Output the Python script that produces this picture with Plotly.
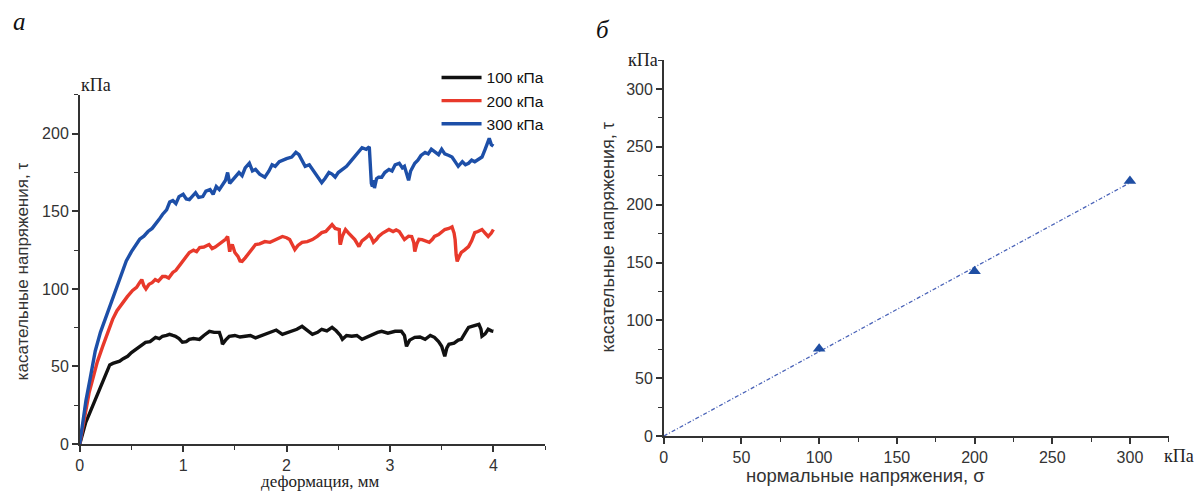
import plotly.graph_objects as go

# ---- Panel a: shear stress vs. displacement for three normal loads ----
disp_100 = [0, 0.03, 0.058, 0.09, 0.125, 0.17, 0.222, 0.26, 0.29, 0.32, 0.35, 0.386, 0.42, 0.463,
            0.5, 0.54, 0.58, 0.61, 0.636, 0.68, 0.733, 0.77, 0.80, 0.84, 0.868, 0.9, 0.926, 0.96,
            0.993, 1.03, 1.06, 1.1, 1.157, 1.2, 1.254, 1.3, 1.35, 1.37, 1.38, 1.41, 1.446, 1.5,
            1.55, 1.6, 1.65, 1.7, 1.736, 1.8, 1.86, 1.9, 1.96, 2.0, 2.05, 2.1, 2.15, 2.2, 2.25,
            2.3, 2.34, 2.39, 2.44, 2.48, 2.52, 2.54, 2.58, 2.63, 2.68, 2.73, 2.78, 2.83, 2.88,
            2.92, 2.98, 3.05, 3.11, 3.14, 3.16, 3.19, 3.24, 3.29, 3.34, 3.39, 3.43, 3.47, 3.50,
            3.53, 3.55, 3.57, 3.62, 3.66, 3.69, 3.73, 3.76, 3.8, 3.86, 3.88, 3.89, 3.92, 3.95,
            3.98, 4.0]
tau_100 = [0, 7, 14, 19, 24.4, 32, 40, 46, 51, 52, 52.5, 53.4, 55, 56.6,
           59, 61, 62.5, 64, 65.6, 66, 68.8, 68, 69.5, 70, 70.7, 70, 69.5, 68,
           65.6, 66, 67.5, 68, 67.5, 70, 72.7, 72, 72, 68, 64.3, 67, 69.5, 70,
           69, 69.5, 70, 68.5, 69.5, 71, 72.7, 73.5, 70.7, 71.5, 72.7, 74, 75.9, 73, 70.7,
           72, 74, 73, 75.2, 73, 70, 67.5, 70, 69.5, 70, 67.5, 69, 70.7, 72,
           72.7, 71.5, 72.7, 72.7, 70, 63, 67, 68.8, 69, 67.5, 70, 68.8, 66, 63,
           56.6, 62, 64.3, 65, 67, 67.5, 72, 75.2, 76, 77.2, 74, 69.5, 71, 74,
           73, 72.7]

disp_200 = [0, 0.03, 0.058, 0.09, 0.125, 0.17, 0.222, 0.27, 0.318, 0.36, 0.415, 0.46, 0.511,
            0.55, 0.579, 0.6, 0.62, 0.64, 0.67, 0.70, 0.73, 0.76, 0.8, 0.83, 0.86, 0.9, 0.93,
            0.96, 1.0, 1.03, 1.06, 1.1, 1.13, 1.16, 1.2, 1.25, 1.28, 1.31, 1.35, 1.38, 1.41,
            1.43, 1.44, 1.45, 1.46, 1.475, 1.5, 1.53, 1.55, 1.57, 1.6, 1.64, 1.67, 1.70, 1.74,
            1.79, 1.84, 1.89, 1.93, 1.96, 2.0, 2.03, 2.06, 2.08, 2.11, 2.15, 2.2, 2.25, 2.3,
            2.34, 2.38, 2.41, 2.44, 2.47, 2.51, 2.515, 2.52, 2.54, 2.57, 2.6, 2.63, 2.66, 2.70,
            2.73, 2.77, 2.80, 2.82, 2.84, 2.87, 2.89, 2.93, 2.96, 2.99, 3.03, 3.06, 3.09, 3.12,
            3.14, 3.18, 3.21, 3.23, 3.24, 3.26, 3.28, 3.31, 3.35, 3.38, 3.41, 3.43, 3.47, 3.5,
            3.53, 3.57, 3.60, 3.62, 3.63, 3.64, 3.65, 3.67, 3.69, 3.72, 3.76, 3.79, 3.82, 3.85,
            3.89, 3.92, 3.95, 3.98, 4.0]
tau_200 = [0, 12, 22.5, 33, 41.8, 53, 63, 72, 80.4, 86, 91.3, 95, 99,
           101, 104, 106, 102, 100, 103, 104, 106, 105, 108, 108, 107, 110.6, 112,
           114.5, 118, 121, 123.5, 125, 124, 126.7, 127, 128.6, 126, 127, 129, 130, 132,
           133.8, 129, 124, 127, 128.6, 123.5, 121, 118, 117.7, 120, 123.5, 126, 128.6, 129,
           130.5, 130, 131.8, 133, 133.8, 133, 131.8, 128, 125.4, 128, 130, 130.5, 131.8, 134,
           136.3, 137, 139, 141.5, 139, 138.3, 130, 128.6, 134, 138.3, 136, 134, 131.8, 127.3,
           131, 133, 135, 133, 130, 132, 133.8, 136, 137, 138.3, 137, 138, 137, 134,
           131.8, 134, 133.8, 130, 124, 129, 132, 131.8, 131, 130, 132, 133.8, 135, 137,
           138.3, 139, 140, 136, 131.8, 122, 117.7, 121, 123.5, 125, 127.3, 131, 136.3, 137,
           138.3, 136, 133.8, 136, 138.3]

disp_300 = [0, 0.03, 0.06, 0.1, 0.15, 0.2, 0.25, 0.3, 0.35, 0.4, 0.45, 0.5, 0.55, 0.58, 0.62,
            0.66, 0.7, 0.74, 0.77, 0.8, 0.84, 0.87, 0.9, 0.93, 0.96, 1.0, 1.03, 1.06, 1.09,
            1.12, 1.15, 1.19, 1.22, 1.26, 1.29, 1.32, 1.35, 1.38, 1.41, 1.43, 1.45, 1.475, 1.5,
            1.54, 1.57, 1.6, 1.64, 1.67, 1.70, 1.74, 1.79, 1.83, 1.86, 1.89, 1.93, 1.96, 2.0,
            2.05, 2.09, 2.12, 2.15, 2.18, 2.22, 2.25, 2.29, 2.34, 2.37, 2.41, 2.44, 2.47, 2.5,
            2.54, 2.58, 2.63, 2.67, 2.70, 2.73, 2.77, 2.80, 2.81, 2.82, 2.83, 2.84, 2.85, 2.87,
            2.89, 2.92, 2.95, 2.99, 3.02, 3.05, 3.09, 3.12, 3.14, 3.17, 3.18, 3.2, 3.24, 3.27,
            3.3, 3.34, 3.37, 3.40, 3.44, 3.47, 3.50, 3.53, 3.57, 3.60, 3.63, 3.66, 3.7, 3.73,
            3.76, 3.79, 3.82, 3.86, 3.89, 3.92, 3.94, 3.96, 3.98, 4.0]
tau_300 = [0, 15, 28, 42, 60, 72, 81, 91, 100, 109, 118, 124, 129, 132, 134,
           137, 139, 142, 145, 148, 151, 156, 157, 155, 159.5, 161, 158, 157.6, 160,
           162, 159, 159.5, 163, 164, 161, 166, 164, 167, 170, 175, 168, 170, 172,
           175, 173, 178, 181, 176, 177, 174, 172, 176, 180, 179, 182, 183, 184,
           185, 188, 186.5, 183, 179, 180, 177, 173, 168.5, 171, 175, 174, 172, 175,
           177, 179, 183, 186, 189, 191, 190, 191.6, 180, 168, 166, 170, 165, 171,
           172, 172, 175, 177, 176, 180, 181, 178, 179, 172, 170, 176, 181, 183,
           186, 188, 187, 190, 188, 186.5, 190, 187, 186, 185, 182, 179, 182, 180,
           181, 183, 182, 184, 185, 190, 194, 197, 193, 192]

series_names = ["100 кПа", "200 кПа", "300 кПа"]
series_colors = ["#111111", "#e8392b", "#1d4fa8"]

# ---- Panel б: shear strength vs. normal stress ----
sigma = [100, 200, 300]
tau_max = [75.5, 142.5, 220.5]

# least-squares line through the origin
slope = sum(s * t for s, t in zip(sigma, tau_max)) / sum(s * s for s in sigma)
fit_sigma = [0, 300]
fit_tau = [slope * s for s in fit_sigma]

W, H = 1195, 491
H_EFF = 483  # vertical extent used when converting pixel positions to paper fractions


def px(x):
    return x / W


def py(y):
    return 1 - y / H_EFF


sans = "Liberation Sans, Arial, sans-serif"
serif = "Liberation Serif, Times New Roman, serif"
axis_col = "#333333"

fig = go.Figure()
for xs, ys, name, col in zip([disp_100, disp_200, disp_300], [tau_100, tau_200, tau_300],
                             series_names, series_colors):
    fig.add_trace(go.Scatter(x=xs, y=ys, mode="lines", name=name,
                             line=dict(color=col, width=3.4), xaxis="x", yaxis="y"))

fig.add_trace(go.Scatter(x=fit_sigma, y=fit_tau, mode="lines", showlegend=False,
                         line=dict(color="#4a63b8", width=1.3, dash="4px,2px,1px,2px"),
                         xaxis="x2", yaxis="y2"))
fig.add_trace(go.Scatter(x=sigma, y=tau_max, mode="markers", showlegend=False,
                         marker=dict(symbol="triangle-up", size=11, color="#1f4ea3"),
                         xaxis="x2", yaxis="y2"))

common = dict(showgrid=False, zeroline=False, showline=True, linecolor=axis_col, linewidth=1.5,
              ticks="outside", ticklen=6, tickwidth=1.5, tickcolor=axis_col,
              tickfont=dict(family=sans, size=16, color="#333333"), mirror=False)
minor_25 = dict(ticks="outside", ticklen=4, dtick=25, tickcolor=axis_col, tickwidth=1.2)

fig.update_layout(
    width=W, height=H, margin=dict(l=0, r=0, t=0, b=0),
    paper_bgcolor="white", plot_bgcolor="white",
    xaxis=dict(domain=[px(76), px(543)], range=[0, 4.501], dtick=1, anchor="y",
               minor=dict(ticks="outside", ticklen=4, dtick=0.5, tickcolor=axis_col, tickwidth=1.2),
               **common),
    yaxis=dict(domain=[py(445), py(95)], range=[0, 225.1], dtick=50, anchor="x",
               minor=minor_25, **common),
    xaxis2=dict(domain=[px(662), px(1169)], range=[0, 325.2], dtick=50, anchor="y2",
                minor=minor_25, **common),
    yaxis2=dict(domain=[py(437), py(60)], range=[0, 325.2], dtick=50, anchor="x2",
                minor=minor_25, **common),
    legend=dict(x=px(434), y=py(61), xanchor="left", yanchor="top",
                font=dict(family=sans, size=15.5, color="#111111"),
                bgcolor="rgba(0,0,0,0)", itemwidth=40, tracegroupgap=0),
    showlegend=True,
)

annotations = [
    dict(text="<i>а</i>", x=px(16), y=py(22), font=dict(family=serif, size=25, color="#111")),
    dict(text="<i>б</i>", x=px(601), y=py(30), font=dict(family=serif, size=25, color="#111")),
    dict(text="кПа", x=px(92), y=py(85), font=dict(family=serif, size=18, color="#222")),
    dict(text="кПа", x=px(641), y=py(60), font=dict(family=serif, size=18, color="#222")),
    dict(text="кПа", x=px(1179), y=py(457), font=dict(family=serif, size=18, color="#222")),
    dict(text="касательные напряжения, τ", x=px(18), y=py(272), textangle=-90,
         font=dict(family=sans, size=17, color="#333")),
    dict(text="деформация, мм", x=px(318), y=py(482), font=dict(family=serif, size=17, color="#222")),
    dict(text="касательные напряжения, τ", x=px(606), y=py(238), textangle=-90,
         font=dict(family=sans, size=18, color="#333")),
    dict(text="нормальные напряжения, σ", x=px(864), y=py(476),
         font=dict(family=sans, size=18.5, color="#333")),
]
for a in annotations:
    a.update(xref="paper", yref="paper", showarrow=False, xanchor="center", yanchor="middle")
fig.update_layout(annotations=annotations)

fig.write_html("out.html")
